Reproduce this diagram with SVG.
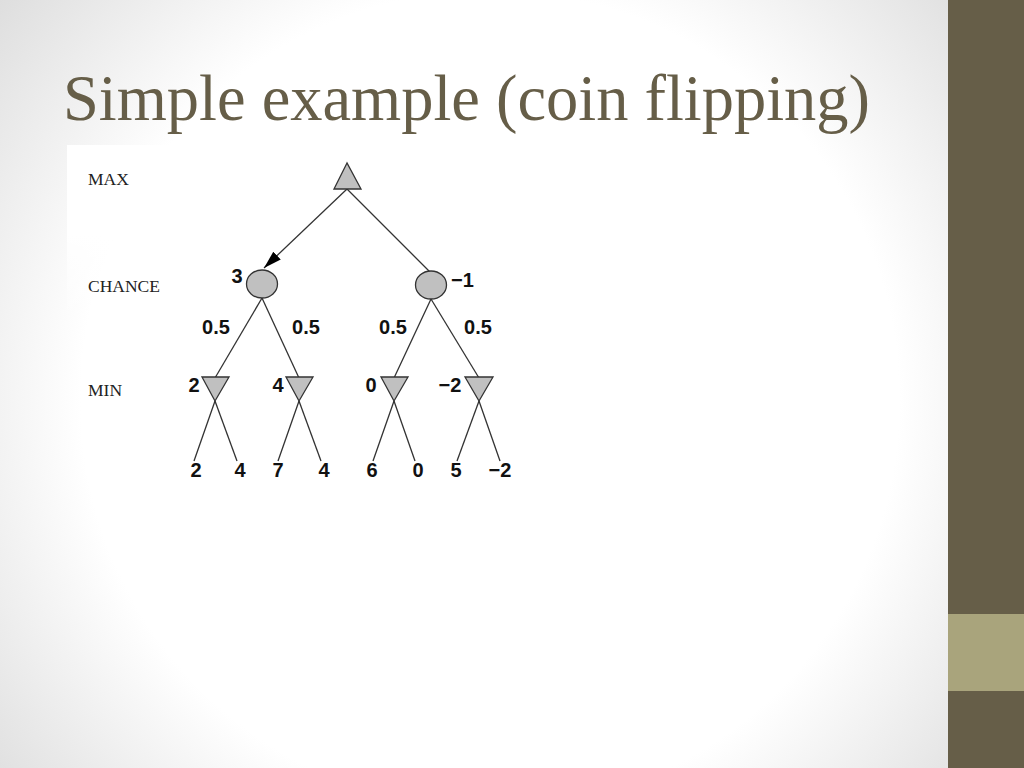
<svg xmlns="http://www.w3.org/2000/svg" width="1024" height="768" viewBox="0 0 1024 768">
<defs>
<radialGradient id="bg" cx="490" cy="400" r="660" gradientUnits="userSpaceOnUse">
<stop offset="0" stop-color="#ffffff"/>
<stop offset="0.62" stop-color="#ffffff"/>
<stop offset="1" stop-color="#dadada"/>
</radialGradient>
<linearGradient id="fade" x1="0" y1="0" x2="0" y2="1">
<stop offset="0" stop-color="#ffffff" stop-opacity="1"/>
<stop offset="0.5" stop-color="#ffffff" stop-opacity="1"/>
<stop offset="1" stop-color="#ffffff" stop-opacity="0"/>
</linearGradient>
<marker id="arr" viewBox="0 0 10 10" refX="10" refY="5" markerWidth="18" markerHeight="18" markerUnits="userSpaceOnUse" orient="auto">
<path d="M0,2 L10,5 L0,8 Z" fill="#000"/>
</marker>
<style>
.edge{stroke:#333;stroke-width:1.3;fill:none}
.node{fill:#c0c0c0;stroke:#333;stroke-width:1.3}
.lvl{font-family:"Liberation Serif",serif;font-size:17.5px;fill:#222}
.val{font-family:"Liberation Sans",Arial,sans-serif;font-weight:bold;font-size:20px;fill:#111}
.mid{text-anchor:middle}
</style>
</defs>
<rect x="0" y="0" width="1024" height="768" fill="url(#bg)"/>
<rect x="948" y="0" width="76" height="768" fill="#665e48"/>
<rect x="948" y="614" width="76" height="77" fill="#a9a47c"/>
<text x="63" y="120" font-family="Liberation Serif,serif" font-size="66" fill="#665e48" textLength="807" lengthAdjust="spacingAndGlyphs">Simple example (coin flipping)</text>
<rect x="67" y="145" width="470" height="180" fill="url(#fade)"/>
<g id="levels">
<text class="lvl" x="88" y="185">MAX</text>
<text class="lvl" x="88" y="292">CHANCE</text>
<text class="lvl" x="88" y="396">MIN</text>
</g>
<g id="connectors">
<line class="edge" x1="347" y1="189" x2="264" y2="268" marker-end="url(#arr)"/>
<line class="edge" x1="347" y1="189" x2="430" y2="272"/>
<line class="edge" x1="262" y1="298" x2="215" y2="378"/>
<line class="edge" x1="262" y1="298" x2="299" y2="378"/>
<line class="edge" x1="431" y1="299" x2="394" y2="378"/>
<line class="edge" x1="431" y1="299" x2="479" y2="378"/>
<line class="edge" x1="215" y1="401" x2="194" y2="461"/>
<line class="edge" x1="215" y1="401" x2="237" y2="461"/>
<line class="edge" x1="299" y1="401" x2="278" y2="461"/>
<line class="edge" x1="299" y1="401" x2="321" y2="461"/>
<line class="edge" x1="394" y1="401" x2="373" y2="461"/>
<line class="edge" x1="394" y1="401" x2="415" y2="461"/>
<line class="edge" x1="479" y1="401" x2="457" y2="461"/>
<line class="edge" x1="479" y1="401" x2="500" y2="461"/>
</g>
<g id="max"><polygon class="node" points="347,163 334,189 361,189"/></g>
<g id="chanceL"><ellipse class="node" cx="262" cy="284" rx="15.5" ry="14"/><text class="val mid" x="237" y="283">3</text></g>
<g id="chanceR"><ellipse class="node" cx="431" cy="285" rx="15.5" ry="14"/><text class="val" x="451" y="287">−1</text></g>
<g id="probs">
<text class="val mid" x="216" y="334">0.5</text>
<text class="val mid" x="306" y="334">0.5</text>
<text class="val mid" x="393" y="334">0.5</text>
<text class="val mid" x="478" y="334">0.5</text>
</g>
<g id="min1"><polygon class="node" points="202,377 229,377 215,401"/><text class="val mid" x="194" y="392">2</text></g>
<g id="min2"><polygon class="node" points="286,377 313,377 299,401"/><text class="val mid" x="278" y="392">4</text></g>
<g id="min3"><polygon class="node" points="381,377 408,377 394,401"/><text class="val mid" x="371" y="392">0</text></g>
<g id="min4"><polygon class="node" points="465,377 493,377 479,401"/><text class="val mid" x="450" y="392">−2</text></g>
<g id="leaves">
<text class="val mid" x="196" y="477">2</text>
<text class="val mid" x="240" y="477">4</text>
<text class="val mid" x="278" y="477">7</text>
<text class="val mid" x="324" y="477">4</text>
<text class="val mid" x="372" y="477">6</text>
<text class="val mid" x="418" y="477">0</text>
<text class="val mid" x="456" y="477">5</text>
<text class="val mid" x="500" y="477">−2</text>
</g>
</svg>
